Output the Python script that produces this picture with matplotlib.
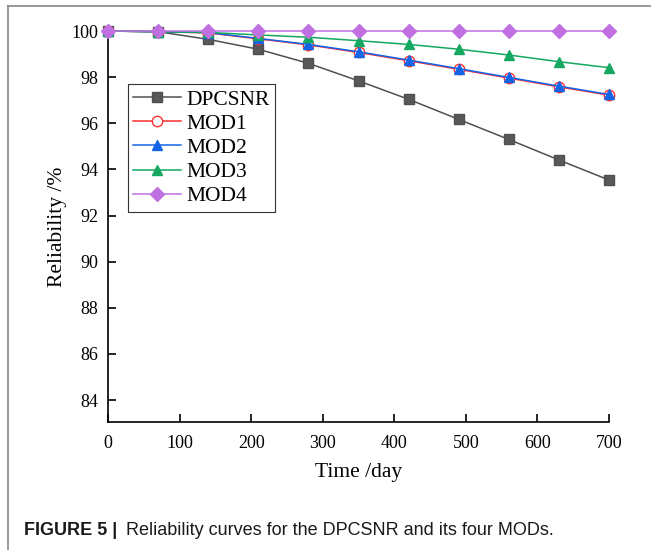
"""Reliability curves for the DPCSNR and its four MODs (Figure 5)."""
import matplotlib
matplotlib.use("Agg")
import matplotlib.pyplot as plt
from matplotlib.lines import Line2D

days = [0, 70, 140, 210, 280, 350, 420, 490, 560, 630, 700]
dpcsnr = [100.0, 99.97, 99.64, 99.21, 98.60, 97.84, 97.04, 96.17, 95.30, 94.41, 93.54]
mod1 = [100.0, 99.97, 99.92, 99.66, 99.40, 99.07, 98.71, 98.34, 97.96, 97.58, 97.22]
mod2 = [100.0, 99.97, 99.93, 99.68, 99.42, 99.10, 98.74, 98.37, 97.99, 97.61, 97.25]
mod3 = [100.0, 99.97, 99.94, 99.83, 99.73, 99.58, 99.42, 99.21, 98.96, 98.67, 98.41]
mod4 = [100.0] * 11

xticks = [0, 100, 200, 300, 400, 500, 600, 700]
yticks = [84, 86, 88, 90, 92, 94, 96, 98, 100]

plt.rcParams["font.family"] = ["Liberation Serif", "DejaVu Serif"]

fig = plt.figure(figsize=(6.51, 5.5), dpi=100)
ax = fig.add_axes([0.1659, 0.2327, 0.7696, 0.7109])

# (values, label, colour, marker, face)
series = [
    (dpcsnr, "DPCSNR", "#505050", "s", "#585858"),
    (mod1, "MOD1", "#ff3030", "o", "white"),
    (mod2, "MOD2", "#1464e6", "^", "#1464e6"),
    (mod3, "MOD3", "#14a860", "^", "#14a860"),
    (mod4, "MOD4", "#c070e0", "D", "#c070e0"),
]
for vals, label, col, mk, face in series:
    ax.plot(days, vals, "-", color=col, marker=mk, markerfacecolor=face,
            markeredgecolor=col, markersize=7.5 if mk != "D" else 7,
            linewidth=1.1, label=label, clip_on=False, zorder=3)

ax.set_xlim(0, 700)
ax.set_ylim(83.05, 100)
ax.set_xticks(xticks)
ax.set_yticks(yticks)
ax.spines["top"].set_visible(False)
ax.spines["right"].set_visible(False)
for s in ("left", "bottom"):
    ax.spines[s].set_linewidth(1.2)
ax.tick_params(direction="in", length=6, width=1.2, labelsize=13)
ax.tick_params(axis="x", pad=9)
ax.tick_params(axis="y", pad=7)
ax.set_xlabel("Time /day", fontsize=15.5, labelpad=8)
ax.set_ylabel("Reliability /%", fontsize=15.5, labelpad=3)

leg = ax.legend(loc="upper left", bbox_to_anchor=(0.04, 0.864),
                fontsize=15.5, fancybox=False,
                edgecolor="#333333", framealpha=1, handlelength=2.2,
                borderpad=0.25, labelspacing=0.19, handletextpad=0.25,
                borderaxespad=0)
leg.get_frame().set_linewidth(0.8)

# page frame and caption
fig.add_artist(Line2D([0.0123, 0.0123], [0, 0.989], color="#888888", lw=1.2))
fig.add_artist(Line2D([0.0123, 1.0], [0.989, 0.989], color="#888888", lw=1.2))
fig.text(0.037, 0.027, "FIGURE 5 |", fontsize=13, fontweight="bold",
         family="Liberation Sans", color="#1a1a1a", va="baseline")
fig.text(0.193, 0.027, "Reliability curves for the DPCSNR and its four MODs.",
         fontsize=13, family="Liberation Sans", color="#1a1a1a", va="baseline")

fig.savefig("out.png", dpi=100)
